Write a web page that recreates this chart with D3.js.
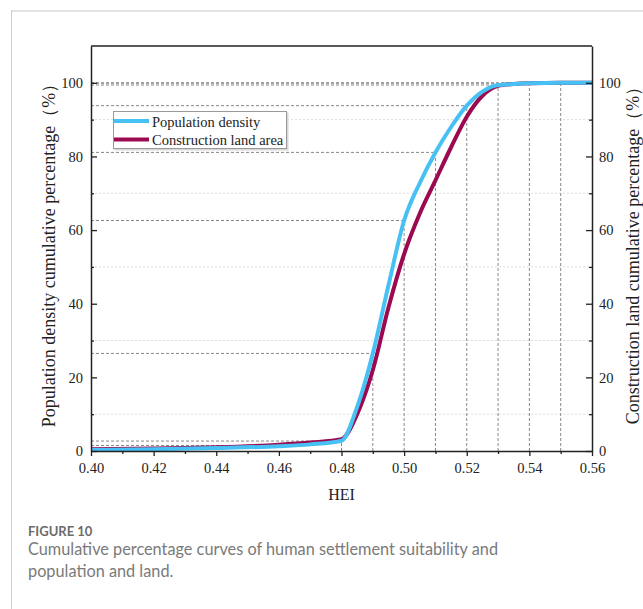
<!DOCTYPE html>
<html>
<head>
<meta charset="utf-8">
<script src="https://cdn.jsdelivr.net/npm/d3@7"></script>
<style>
  body { margin: 0; background: #fff; }
  svg { display: block; }
</style>
</head>
<body>
<div id="chart"></div>
<script>
// HEI values and cumulative percentages
const hei = [0.40, 0.42, 0.44, 0.46, 0.47, 0.48, 0.485, 0.49, 0.495, 0.50, 0.505, 0.51, 0.515, 0.52, 0.525, 0.53, 0.535, 0.54, 0.55, 0.56];
const popDensity = [0.3, 0.5, 0.8, 1.3, 1.8, 2.8, 12, 26.5, 45, 62.6, 72.8, 81.1, 88, 93.8, 97.6, 99.4, 99.7, 99.9, 100, 100];
const landArea = [0.5, 0.7, 1.0, 1.7, 2.3, 3.2, 10, 22, 39, 53.5, 64.5, 73.5, 82.5, 90.8, 96.5, 99.2, 99.7, 99.9, 100, 100];

// reference points marked with dashed lines (on the population curve)
const refHei = [0.47, 0.48, 0.49, 0.50, 0.51, 0.52, 0.53, 0.54, 0.55];
const refPct = [1.5, 2.7, 26.5, 62.6, 81.1, 93.8, 99.4, 99.9, 100];

const xTicks = [0.40, 0.42, 0.44, 0.46, 0.48, 0.50, 0.52, 0.54, 0.56];
const xMinor = [0.41, 0.43, 0.45, 0.47, 0.49, 0.51, 0.53, 0.55];
const yTicks = [0, 20, 40, 60, 80, 100];
const yMinor = [10, 30, 50, 70, 90];

const seriesNames = ["Population density", "Construction land area"];
const seriesColors = ["#47c1f4", "#9b0a50"];

const W = 643, H = 609;
const plotL = 91, plotR = 592, plotT = 46, plotB = 451;

const svg = d3.select("#chart").append("svg")
    .attr("width", W)
    .attr("height", H);

// outer frame of the figure
svg.append("line").attr("x1", 11).attr("x2", W).attr("y1", 11).attr("y2", 11)
    .attr("stroke", "#e3e3e3").attr("stroke-width", 2);
svg.append("line").attr("x1", 11.5).attr("x2", 11.5).attr("y1", 10).attr("y2", H)
    .attr("stroke", "#cfcfcf").attr("stroke-width", 1);

const x = d3.scaleLinear().domain([0.40, 0.56]).range([plotL, plotR]);
const y = d3.scaleLinear().domain([0, 110]).range([plotB, plotT]);

// minor grid
svg.append("g")
    .selectAll("line")
    .data(yMinor)
    .join("line")
    .attr("x1", plotL).attr("x2", plotR)
    .attr("y1", d => y(d)).attr("y2", d => y(d))
    .attr("stroke", "#dcdcdc")
    .attr("stroke-dasharray", "2,2");

// dashed reference lines
const ref = svg.append("g")
    .attr("stroke", "#888")
    .attr("stroke-width", 1)
    .attr("stroke-dasharray", "3,2");
refHei.forEach(function (h, i) {
    ref.append("line")
        .attr("x1", plotL).attr("x2", x(h))
        .attr("y1", y(refPct[i])).attr("y2", y(refPct[i]));
    if (h >= 0.48) {
        ref.append("line")
            .attr("x1", x(h)).attr("x2", x(h))
            .attr("y1", plotB).attr("y2", y(refPct[i]));
    }
});

// curves
const line = d3.line()
    .x((d, i) => x(hei[i]))
    .y(d => y(d))
    .curve(d3.curveMonotoneX);

svg.append("path")
    .datum(landArea)
    .attr("d", line)
    .attr("fill", "none")
    .attr("stroke", seriesColors[1])
    .attr("stroke-width", 4);

svg.append("path")
    .datum(popDensity)
    .attr("d", line)
    .attr("fill", "none")
    .attr("stroke", seriesColors[0])
    .attr("stroke-width", 4);

// axes
const tickFont = "'Liberation Serif', 'Times New Roman', serif";

svg.append("g")
    .attr("transform", `translate(0,${plotB})`)
    .call(d3.axisBottom(x).tickValues(xTicks).tickFormat(d3.format(".2f")).tickSizeInner(5).tickSizeOuter(0).tickPadding(7));
svg.append("g")
    .attr("transform", `translate(0,${plotB})`)
    .call(d3.axisBottom(x).tickValues(xMinor).tickFormat("").tickSizeInner(3).tickSizeOuter(0))
    .select(".domain").remove();

svg.append("g")
    .attr("transform", `translate(${plotL},0)`)
    .call(d3.axisLeft(y).tickValues(yTicks).tickSizeInner(-6).tickSizeOuter(0).tickPadding(8));
svg.append("g")
    .attr("transform", `translate(${plotL},0)`)
    .call(d3.axisLeft(y).tickValues(yMinor).tickFormat("").tickSizeInner(-3).tickSizeOuter(0))
    .select(".domain").remove();

svg.append("g")
    .attr("transform", `translate(${plotR},0)`)
    .call(d3.axisRight(y).tickValues(yTicks).tickSizeInner(-6).tickSizeOuter(0).tickPadding(7));
svg.append("g")
    .attr("transform", `translate(${plotR},0)`)
    .call(d3.axisRight(y).tickValues(yMinor).tickFormat("").tickSizeInner(-3).tickSizeOuter(0))
    .select(".domain").remove();

svg.selectAll(".tick text")
    .style("font-family", tickFont)
    .style("font-size", "14.5px")
    .attr("fill", "#222");
svg.selectAll(".tick line").attr("stroke", "#222").attr("stroke-width", 1.3);
svg.selectAll(".domain").attr("stroke", "#222").attr("stroke-width", 1.5);

// top border of the plot
svg.append("line")
    .attr("x1", plotL).attr("x2", plotR)
    .attr("y1", plotT).attr("y2", plotT)
    .attr("stroke", "#222").attr("stroke-width", 1.5);

// axis titles
svg.append("text")
    .attr("transform", `translate(55,251) rotate(-90)`)
    .attr("text-anchor", "middle")
    .style("font-family", tickFont)
    .style("font-size", "18px")
    .attr("fill", "#222")
    .text("Population density cumulative percentage（%）");

svg.append("text")
    .attr("transform", `translate(639,251) rotate(-90)`)
    .attr("text-anchor", "middle")
    .style("font-family", tickFont)
    .style("font-size", "18px")
    .attr("fill", "#222")
    .text("Construction land cumulative percentage（%）");

svg.append("text")
    .attr("x", (plotL + plotR) / 2)
    .attr("y", 500)
    .attr("text-anchor", "middle")
    .style("font-family", tickFont)
    .style("font-size", "16px")
    .attr("fill", "#222")
    .text("HEI");

// legend
const legend = svg.append("g");
legend.append("rect")
    .attr("x", 114.5).attr("y", 112.5)
    .attr("width", 174).attr("height", 38)
    .attr("fill", "#d8d8d8");
legend.append("rect")
    .attr("x", 113.5).attr("y", 111.5)
    .attr("width", 173).attr("height", 37)
    .attr("fill", "#fff")
    .attr("stroke", "#999");
seriesNames.forEach(function (name, i) {
    const ly = 121 + i * 18.5;
    legend.append("line")
        .attr("x1", 114).attr("x2", 149)
        .attr("y1", ly).attr("y2", ly)
        .attr("stroke", seriesColors[i])
        .attr("stroke-width", 4);
    legend.append("text")
        .attr("x", 152).attr("y", ly + 5.5)
        .style("font-family", tickFont)
        .style("font-size", "14.5px")
        .attr("fill", "#222")
        .text(name);
});

// caption
const captionFont = "Lato, 'Open Sans', sans-serif";
svg.append("text")
    .attr("x", 28).attr("y", 536)
    .style("font-family", captionFont)
    .style("font-size", "13px")
    .style("font-weight", 700)
    .attr("fill", "#6b6b6b")
    .text("FIGURE 10");

const captionLines = ["Cumulative percentage curves of human settlement suitability and", "population and land."];
captionLines.forEach(function (t, i) {
    svg.append("text")
        .attr("x", 28).attr("y", 554.5 + i * 22.5)
        .style("font-family", captionFont)
        .style("font-size", "16.3px")
        .style("font-weight", 400)
        .attr("fill", "#7a7a7a")
        .text(t);
});
</script>
</body>
</html>
